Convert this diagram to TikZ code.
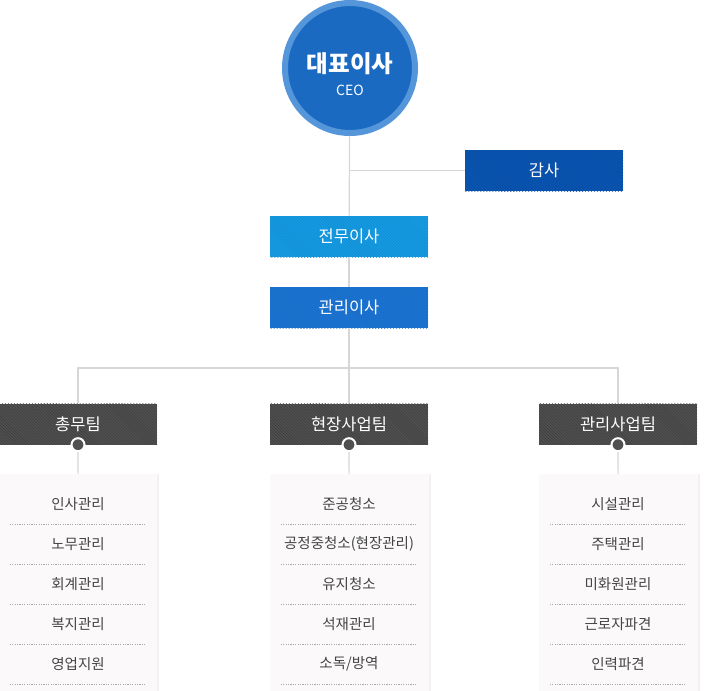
\documentclass[tikz,border=0pt]{standalone}
\usepackage{fontspec}
\setmainfont{Noto Sans CJK KR}
\usetikzlibrary{patterns,shadows,positioning}
\definecolor{ringblue}{HTML}{5596DA}
\definecolor{ceoblue}{HTML}{1A6AC2}
\definecolor{audblue}{HTML}{0A55B2}
\definecolor{exdblue}{HTML}{159BE3}
\definecolor{mgdblue}{HTML}{1B74D3}
\definecolor{teamgray}{HTML}{505050}
\definecolor{wiregray}{HTML}{D6D6D6}
\definecolor{listbg}{HTML}{FBF9FA}
\definecolor{itemtext}{HTML}{444444}
\definecolor{sepgray}{HTML}{ABABAB}

\begin{document}
\begin{tikzpicture}[x=1bp, y=-1bp,
   wire/.style = {draw=wiregray, line width=1.2bp},
   board/.style = {minimum width=158bp, minimum height=41bp, inner sep=0, text=white,
                   font=\fontsize{16.5bp}{19bp}\selectfont},
   team/.style = {board, preaction={fill=teamgray}, pattern=north west lines, pattern color=teamgray!75!black},
   dot/.style = {circle, fill=teamgray, draw=white, line width=2bp, minimum size=13bp, inner sep=0},
   list/.style = {fill=listbg, minimum width=157bp, minimum height=222bp, anchor=north, inner sep=0,
                  drop shadow={fill=black, opacity=0.05, shadow xshift=2bp, shadow yshift=0bp}},
   item/.style = {minimum width=136bp, minimum height=40bp, inner sep=0, text=itemtext,
                  font=\fontsize{14.5bp}{17bp}\selectfont},
   sep/.style = {draw=sepgray, line width=0.8bp, dash pattern=on 1.2bp off 1.2bp}]
         \useasboundingbox (0, 0) rectangle (708, 691);
         \node (CEO) [circle, fill=ceoblue, draw=ringblue, line width=6bp, minimum size=130bp] at (350, 68) {};
         \node at (350, 64) {\fontsize{23.5bp}{26bp}\selectfont\bfseries\color{white}대표이사};
         \node at (350, 90) {\fontsize{14bp}{16bp}\selectfont\color{white}CEO};
         \node (AUD) [board, preaction={fill=audblue}, pattern=north west lines, pattern color=audblue!88!black] at (544, 170.5) {감사};
         \node (EXD) [board, preaction={fill=exdblue}, pattern=north west lines, pattern color=exdblue!90!black] at (349, 236.5) {전무이사};
         \node (MGD) [board, preaction={fill=mgdblue}, pattern=north west lines, pattern color=mgdblue!90!black] at (349, 307.5) {관리이사};
         \node (T1) [team] at (78, 424) {총무팀};
         \node (T2) [team] at (349, 424) {현장사업팀};
         \node (T3) [team] at (618, 424) {관리사업팀};
         \coordinate (BR) at (349, 368);
         \draw [wire] (CEO) -- (EXD);
         \draw [wire] (CEO.south |- AUD) -- (AUD);
         \draw [wire] (EXD) -- (MGD);
         \draw [wire] (MGD) -- (T2);
         \draw [wire] (T1) |- (BR) -| (T3);
         \node (D1) [dot] at (T1.south) {};
         \node (D2) [dot] at (T2.south) {};
         \node (D3) [dot] at (T3.south) {};
         \node (L1) [list] at (78.5, 474) {};
         \node (L2) [list, minimum width=159bp] at (349.5, 474) {};
         \node (L3) [list, minimum width=159bp] at (618.5, 474) {};
         \draw [wire] (D1) -- (L1);
         \draw [wire] (D2) -- (L2);
         \draw [wire] (D3) -- (L3);
         \node (A1) [item] at (78, 504) {인사관리};
         \node (A2) [item] at (78, 544) {노무관리};
         \node (A3) [item] at (78, 584) {회계관리};
         \node (A4) [item] at (78, 624) {복지관리};
         \node (A5) [item] at (78, 664) {영업지원};
         \node (B1) [item] at (349, 504) {준공청소};
         \node (B2) [item] at (349, 544) {공정중청소(현장관리)};
         \node (B3) [item] at (349, 584) {유지청소};
         \node (B4) [item] at (349, 624) {석재관리};
         \node (B5) [item] at (349, 664) {소독/방역};
         \node (C1) [item] at (618, 504) {시설관리};
         \node (C2) [item] at (618, 544) {주택관리};
         \node (C3) [item] at (618, 584) {미화원관리};
         \node (C4) [item] at (618, 624) {근로자파견};
         \node (C5) [item] at (618, 664) {인력파견};
         \draw [sep] (A1.south west) -- (A1.south east);
         \draw [sep] (A2.south west) -- (A2.south east);
         \draw [sep] (A3.south west) -- (A3.south east);
         \draw [sep] (A4.south west) -- (A4.south east);
         \draw [sep] (A5.south west) -- (A5.south east);
         \draw [sep] (B1.south west) -- (B1.south east);
         \draw [sep] (B2.south west) -- (B2.south east);
         \draw [sep] (B3.south west) -- (B3.south east);
         \draw [sep] (B4.south west) -- (B4.south east);
         \draw [sep] (B5.south west) -- (B5.south east);
         \draw [sep] (C1.south west) -- (C1.south east);
         \draw [sep] (C2.south west) -- (C2.south east);
         \draw [sep] (C3.south west) -- (C3.south east);
         \draw [sep] (C4.south west) -- (C4.south east);
         \draw [sep] (C5.south west) -- (C5.south east);
\end{tikzpicture}
\end{document}
